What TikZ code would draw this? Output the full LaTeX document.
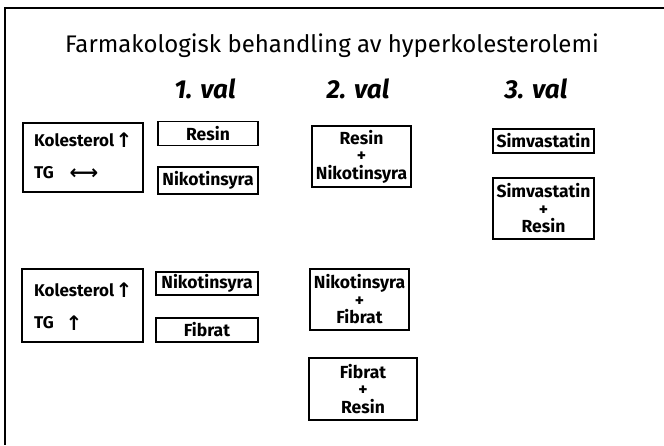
\documentclass[tikz,border=0pt]{standalone}
\usepackage{fontspec}
\setmainfont{Fira Sans}
\newfontfamily\arrowfont{DejaVu Sans}
\begin{document}
\begin{tikzpicture}[x=1pt,y=-1pt,
  box/.style={draw,line width=1.1pt,inner sep=0pt,align=center,font=\fontsize{17.5}{17.5}\selectfont\bfseries},
  lbl/.style={inner sep=0pt,anchor=west,font=\fontsize{17}{17}\selectfont\bfseries},
  arr/.style={inner sep=0pt,font=\arrowfont\fontsize{20}{20}\selectfont\bfseries},
  head/.style={inner sep=0pt,font=\fontsize{26}{28}\selectfont\bfseries\itshape},
  frame/.style={line width=2pt}]
\useasboundingbox (0,0) rectangle (664,445);
\coordinate (tl) at (5,8);
\coordinate (tr) at (664,8);
\coordinate (bl) at (5,445);
\draw[frame] (tr) -- (tl) -- (bl);
\node[inner sep=0pt,font=\fontsize{24}{27}\selectfont] (title) at (332,46) {Farmakologisk behandling av hyperkolesterolemi};
\node[head] (v1) at (205,89) {1. val};
\node[head] (v2) at (358,89) {2. val};
\node[head] (v3) at (536,89) {3. val};
% group 1
\node[box,minimum width=120,minimum height=69] (a1) at (83,157.5) {};
\node[lbl] (a1k) at (34,140) {Kolesterol};
\node[arr] (a1ka) at (124,140) {↑};
\node[lbl] (a1t) at (34,173) {TG};
\node[arr] (a1ta) at (84,174) {⟷};
\node[box,minimum width=100,minimum height=24] (r1) at (208,133.5) {Resin};
\node[box,minimum width=100,minimum height=27] (n1) at (208,180.5) {Nikotinsyra};
\node[box,minimum width=99,minimum height=61] (rn) at (361.5,156.5) {Resin\\+\\Nikotinsyra};
\node[box,minimum width=101,minimum height=24] (s1) at (543.5,141) {Simvastatin};
\node[box,minimum width=101,minimum height=61] (sr) at (543.5,208.5) {Simvastatin\\+\\Resin};
% group 2
\node[box,minimum width=121,minimum height=73] (b1) at (82.5,305.5) {};
\node[lbl] (b1k) at (34,290) {Kolesterol};
\node[arr] (b1ka) at (124,290) {↑};
\node[lbl] (b1t) at (34,323) {TG};
\node[arr] (b1ta) at (74,323) {↑};
\node[box,minimum width=102,minimum height=23] (n2) at (207,283.5) {Nikotinsyra};
\node[box,minimum width=102,minimum height=24] (f2) at (207,330) {Fibrat};
\node[box,minimum width=99,minimum height=61] (nf) at (359.5,299.5) {Nikotinsyra\\+\\Fibrat};
\node[box,minimum width=108,minimum height=62] (fr) at (363,389) {Fibrat\\+\\Resin};
\end{tikzpicture}
\end{document}
